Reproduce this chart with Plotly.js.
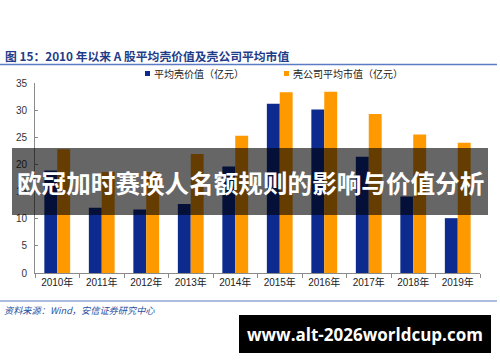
<!DOCTYPE html>
<html>
<head>
<meta charset="utf-8">
<script src="https://cdn.plot.ly/plotly-3.0.1.min.js"></script>
<style>html,body{margin:0;padding:0;background:#fff;}#chart{width:500px;height:362px;}</style>
</head>
<body>
<div id="chart"></div>
<script>
// ---- data ----
const years = ['2010年','2011年','2012年','2013年','2014年','2015年','2016年','2017年','2018年','2019年'];
const shellValue = [18.9, 12.0, 11.7, 12.7, 19.6, 31.2, 30.1, 21.4, 14.1, 10.1];
const shellCompanyCap = [22.8, 18.6, 18.6, 21.9, 25.3, 33.3, 33.4, 29.3, 25.5, 24.0];
const seriesNames = ['平均壳价值（亿元）', '壳公司平均市值（亿元）'];
const yTicks = [0, 5, 10, 15, 20, 25, 30, 35];
const chartTitle = '图 15：2010 年以来 A 股平均壳价值及壳公司平均市值';
const sourceNote = '资料来源：Wind，安信证券研究中心';
const overlayText = '欧冠加时赛换人名额规则的影响与价值分析';
const watermark = 'www.alt-2026worldcup.com';

const BLUE = '#0d2a8e', ORANGE = '#ff9900';
const FONT = 'Liberation Sans, Arial, Noto Sans CJK SC, sans-serif';
const CJK = 'Noto Sans CJK SC, sans-serif';

// layout geometry (pixels -> paper)
const L = 35, R = 20, T = 83, B = 89, W = 500, H = 362;
const pw = W - L - R, ph = H - T - B;
const px = x => (x - L) / pw;
const py = y => (H - B - y) / ph;

const traces = [
  {type: 'bar', x: years, y: shellValue, name: seriesNames[0], marker: {color: BLUE}},
  {type: 'bar', x: years, y: shellCompanyCap, name: seriesNames[1], marker: {color: ORANGE}}
];

const layout = {
  width: W, height: H,
  margin: {l: L, r: R, t: T, b: B, pad: 0},
  paper_bgcolor: '#fff', plot_bgcolor: '#fff',
  showlegend: false,
  barmode: 'group', bargap: 0.42, bargroupgap: 0,
  font: {family: FONT, size: 10, color: '#222'},
  xaxis: {
    type: 'category', showline: true, linecolor: '#8a8a8a', linewidth: 1,
    ticks: 'outside', tickson: 'boundaries', ticklen: 4, tickcolor: '#8a8a8a',
    showgrid: false, zeroline: false,
    tickfont: {family: FONT, size: 10, color: '#222'}
  },
  yaxis: {
    range: [0, 35], tickvals: yTicks, showline: true, linecolor: '#8a8a8a', linewidth: 1,
    ticks: 'inside', ticklen: 3, tickcolor: '#8a8a8a',
    showgrid: false, zeroline: false, ticklabelstandoff: 5,
    tickfont: {family: FONT, size: 10, color: '#333'}
  },
  shapes: [
    // header / footer rules
    {type: 'line', xref: 'paper', yref: 'paper', x0: px(0), x1: px(497), y0: py(64.5), y1: py(64.5), line: {color: '#5b7bc4', width: 1.5}},
    {type: 'line', xref: 'paper', yref: 'paper', x0: px(0), x1: px(497), y0: py(301), y1: py(301), line: {color: '#5b7bc4', width: 1.2}},
    // legend swatches
    {type: 'rect', xref: 'paper', yref: 'paper', x0: px(145), x1: px(150), y0: py(76), y1: py(71), fillcolor: BLUE, line: {width: 0}},
    {type: 'rect', xref: 'paper', yref: 'paper', x0: px(284), x1: px(289), y0: py(76), y1: py(71), fillcolor: ORANGE, line: {width: 0}},
    // overlay banner
    {type: 'rect', xref: 'paper', yref: 'paper', layer: 'above', x0: px(12), x1: px(488), y0: py(215), y1: py(148), fillcolor: 'rgba(0,0,0,0.6)', line: {width: 0}},
    // watermark box
    {type: 'rect', xref: 'paper', yref: 'paper', layer: 'above', x0: px(239), x1: px(491), y0: py(353), y1: py(315), fillcolor: '#000', line: {width: 0}}
  ],
  annotations: [
    {xref: 'paper', yref: 'paper', x: px(3), y: py(55), xanchor: 'left', yanchor: 'middle', showarrow: false,
     text: '<b>' + chartTitle + '</b>', font: {family: CJK, size: 11.8, color: '#1f3c88'}},
    {xref: 'paper', yref: 'paper', x: px(152), y: py(73.5), xanchor: 'left', yanchor: 'middle', showarrow: false,
     text: seriesNames[0], font: {family: CJK, size: 10, color: '#222'}},
    {xref: 'paper', yref: 'paper', x: px(291), y: py(73.5), xanchor: 'left', yanchor: 'middle', showarrow: false,
     text: seriesNames[1], font: {family: CJK, size: 10, color: '#222'}},
    {xref: 'paper', yref: 'paper', x: px(2), y: py(310), xanchor: 'left', yanchor: 'middle', showarrow: false,
     text: '<i>' + sourceNote + '</i>', font: {family: CJK, size: 9.2, color: '#2b4fa0'}},
    {xref: 'paper', yref: 'paper', x: px(250), y: py(182), xanchor: 'center', yanchor: 'middle', showarrow: false,
     text: '<b>' + overlayText + '</b>', font: {family: CJK, size: 24.6, color: '#fff'}},
    {xref: 'paper', yref: 'paper', x: px(365), y: py(334), xanchor: 'center', yanchor: 'middle', showarrow: false,
     text: '<b>' + watermark + '</b>', font: {family: 'Open Sans, DejaVu Sans, sans-serif', size: 17, color: '#fff'}}
  ]
};

Plotly.newPlot('chart', traces, layout, {displayModeBar: false, staticPlot: true});
</script>
</body>
</html>
